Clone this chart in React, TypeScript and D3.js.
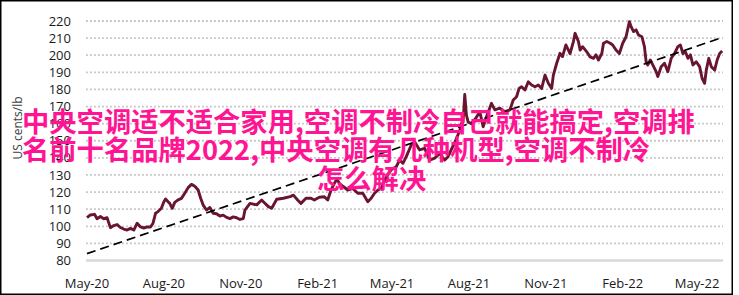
import React from "react";
import * as d3 from "d3";

const priceDates: string[] = [
  "2020-05-01","2020-05-05","2020-05-10","2020-05-13","2020-05-17","2020-05-21","2020-05-25","2020-05-29",
  "2020-06-02","2020-06-06","2020-06-10","2020-06-14","2020-06-18","2020-06-22","2020-06-26","2020-06-30",
  "2020-07-04","2020-07-08","2020-07-12","2020-07-16","2020-07-19","2020-07-22","2020-07-25","2020-07-29",
  "2020-08-01","2020-08-03","2020-08-06","2020-08-08","2020-08-11","2020-08-14","2020-08-18","2020-08-22",
  "2020-08-26","2020-08-30","2020-09-03","2020-09-07","2020-09-11","2020-09-14","2020-09-17","2020-09-21",
  "2020-09-25","2020-09-29","2020-10-03","2020-10-07","2020-10-11","2020-10-15","2020-10-19","2020-10-23",
  "2020-10-27","2020-10-31","2020-11-04","2020-11-06","2020-11-12","2020-11-20","2020-11-26","2020-11-28",
  "2020-12-04","2020-12-08","2020-12-14","2020-12-22","2020-12-30","2021-01-03","2021-01-08","2021-01-12",
  "2021-01-18","2021-01-24","2021-01-28","2021-02-03","2021-02-09","2021-02-13","2021-02-17","2021-02-21",
  "2021-02-24","2021-02-27","2021-03-04","2021-03-09","2021-03-15","2021-03-21","2021-03-27","2021-04-02",
  "2021-04-06","2021-04-10","2021-04-14","2021-04-18","2021-04-22","2021-04-26","2021-04-30","2021-05-06",
  "2021-05-10","2021-05-14","2021-05-18","2021-05-24","2021-05-28","2021-06-03","2021-06-09","2021-06-15",
  "2021-06-21","2021-06-27","2021-07-03","2021-07-07","2021-07-11","2021-07-16","2021-07-21","2021-07-23",
  "2021-07-25","2021-07-27","2021-07-29","2021-07-31","2021-08-04","2021-08-09","2021-08-14","2021-08-18",
  "2021-08-22","2021-08-28","2021-09-01","2021-09-07","2021-09-13","2021-09-19","2021-09-23","2021-09-27",
  "2021-09-30","2021-10-03","2021-10-07","2021-10-11","2021-10-15","2021-10-19","2021-10-23","2021-10-27",
  "2021-10-31","2021-11-04","2021-11-08","2021-11-10","2021-11-14","2021-11-18","2021-11-21","2021-11-25",
  "2021-11-28","2021-11-30","2021-12-04","2021-12-06","2021-12-10","2021-12-12","2021-12-15","2021-12-20",
  "2021-12-24","2021-12-28","2021-12-31","2022-01-03","2022-01-07","2022-01-09","2022-01-13","2022-01-17",
  "2022-01-20","2022-01-24","2022-01-28","2022-02-01","2022-02-05","2022-02-09","2022-02-11","2022-02-14",
  "2022-02-17","2022-02-20","2022-02-24","2022-02-27","2022-03-01","2022-03-03","2022-03-06","2022-03-09",
  "2022-03-13","2022-03-15","2022-03-19","2022-03-23","2022-03-27","2022-03-31","2022-04-04","2022-04-08",
  "2022-04-11","2022-04-14","2022-04-17","2022-04-20","2022-04-23","2022-04-26","2022-04-30","2022-05-04",
  "2022-05-07","2022-05-10","2022-05-12","2022-05-15","2022-05-18","2022-05-22","2022-05-25","2022-05-28",
  "2022-05-31"
];

const priceValues: number[] = [
  105,106.6,107,104.4,105.7,104.4,105,99.2,
  100.4,101,99.3,98.4,97.8,98.8,97.8,101.8,
  99.6,99,99.6,99.6,101.8,107.6,108.6,110.5,
  114.4,116,114.4,113.4,110.5,114,115.4,116.3,
  119.3,122.6,124.5,123.4,121.2,116.4,112.4,109.5,
  111,107.6,107.3,106,106.5,105.2,104.5,105.5,
  105,104,104.5,109.5,113.4,112.5,115.4,114.4,
  111.5,110.5,115.8,116.4,117.3,118.2,115.4,113.4,
  116.4,116.4,115.4,117,117.3,115.4,121.2,125.1,
  127.5,125.1,123.1,121.2,122.1,119.3,119.3,114.4,
  116.4,119.3,121.2,122.1,127,130,133,134.8,
  138.7,136.8,140.7,147.5,149.4,144.6,145.6,138.7,
  139.8,142.6,138.7,140.7,145,150,156,160,
  161,177,165,161,160,163,167,158.2,
  164,171.9,168,169,167,168,173.8,175.7,
  180.6,181.6,179.7,184.5,182.6,181.6,182.6,180.6,
  188.4,183.6,180.6,188.4,195.3,201.1,199.2,206,
  203,201,208,212.8,208,203,205,202,
  199,198.2,200.2,197.2,201,207,208,207,
  206,203,201,207,210.8,219.6,216.7,213.8,
  214.8,211.8,210.8,205,196.2,194.3,197.2,194.3,
  190.4,187.5,193.3,195.3,190.4,198.2,201,205,
  206,201,202,198.2,200.2,194.3,196.2,193.3,
  186.5,183.6,191.3,198.2,193.3,191.3,197.2,201,
  202.5
];

const trendDates: string[] = ["2020-05-01", "2022-06-01"];
const trendValues: number[] = [84, 210.5];

const yTicks: number[] = [80, 90, 100, 110, 120, 130, 140, 150, 160, 170, 180, 190, 200, 210, 220];
const xTickDates: string[] = ["2020-05-01","2020-08-01","2020-11-01","2021-02-01","2021-05-01","2021-08-01","2021-11-01","2022-02-01","2022-05-01"];
const xTickLabels: string[] = ["May-20","Aug-20","Nov-20","Feb-21","May-21","Aug-21","Nov-21","Feb-22","May-22"];

const yAxisTitle = "US cents/lb";
const overlayLines: string[] = [
  "中央空调适不适合家用,空调不制冷自己就能搞定,空调排",
  "名前十名品牌2022,中央空调有几种机型,空调不制冷",
  "怎么解决"
];

const parse = d3.utcParse("%Y-%m-%d");

export default function App() {
  const W = 739, H = 295;
  const x = d3.scaleUtc()
    .domain([parse("2020-05-01")!, parse("2022-06-01")!])
    .range([87, 723]);
  const y = d3.scaleLinear().domain([80, 220]).range([260.5, 21]);

  const pts = priceDates.map((d, i) => ({ d: parse(d)!, v: priceValues[i] }));
  const line = d3.line<{ d: Date; v: number }>()
    .x(p => x(p.d))
    .y(p => y(p.v))
    .curve(d3.curveLinear);
  const trend = trendDates.map((d, i) => ({ d: parse(d)!, v: trendValues[i] }));

  const tickFont = "'Open Sans', 'DejaVu Sans', sans-serif";
  const [x0, x1] = x.range();

  const overlayX = [22, 22, 317];
  const overlayY = [131.5, 160, 188.5];

  return (
    <svg width={W} height={H} style={{ position: "absolute", left: 0, top: 0, background: "#fff" }}>
      <rect x={0} y={0} width={W} height={H} fill="#fff" />
      {yTicks.filter(t => t !== 80).map(t => (
        <line key={t} x1={x0 - 1} x2={x1} y1={y(t)} y2={y(t)}
          stroke="#c4c4c4" strokeWidth={1.8} strokeDasharray="1.8,2.2" />
      ))}
      <line x1={x0 - 1} x2={x1} y1={y(80)} y2={y(80)} stroke="#d9d9d9" strokeWidth={2.5} />
      {yTicks.map(t => (
        <text key={t} x={71} y={y(t)} dy="0.35em" textAnchor="end"
          fontFamily={tickFont} fontSize={13} fill="#1a1a1a">{t}</text>
      ))}
      {xTickDates.map((d, i) => (
        <text key={d} x={x(parse(d)!)} y={288} textAnchor="middle"
          fontFamily={tickFont} fontSize={13} fill="#1a1a1a">{xTickLabels[i]}</text>
      ))}
      <text transform={`translate(22,128) rotate(-90)`} textAnchor="middle"
        fontFamily={tickFont} fontSize={12} fill="#404040">{yAxisTitle}</text>
      <path d={line(pts) || ""} fill="none" stroke="#6a1530" strokeWidth={2.9} strokeLinejoin="round" />
      <path d={line(trend) || ""} fill="none" stroke="#000" strokeWidth={1.7} strokeDasharray="9,5" />
      {overlayLines.map((s, i) => (
        <text key={i} x={overlayX[i]} y={overlayY[i]} fontFamily="'Noto Sans CJK SC', sans-serif"
          fontWeight="bold" fontSize={27.3} fill="#ff1493">{s}</text>
      ))}
      <rect x={0.75} y={0.75} width={731.5} height={293.5} fill="none" stroke="#000" strokeWidth={1.5} />
    </svg>
  );
}
